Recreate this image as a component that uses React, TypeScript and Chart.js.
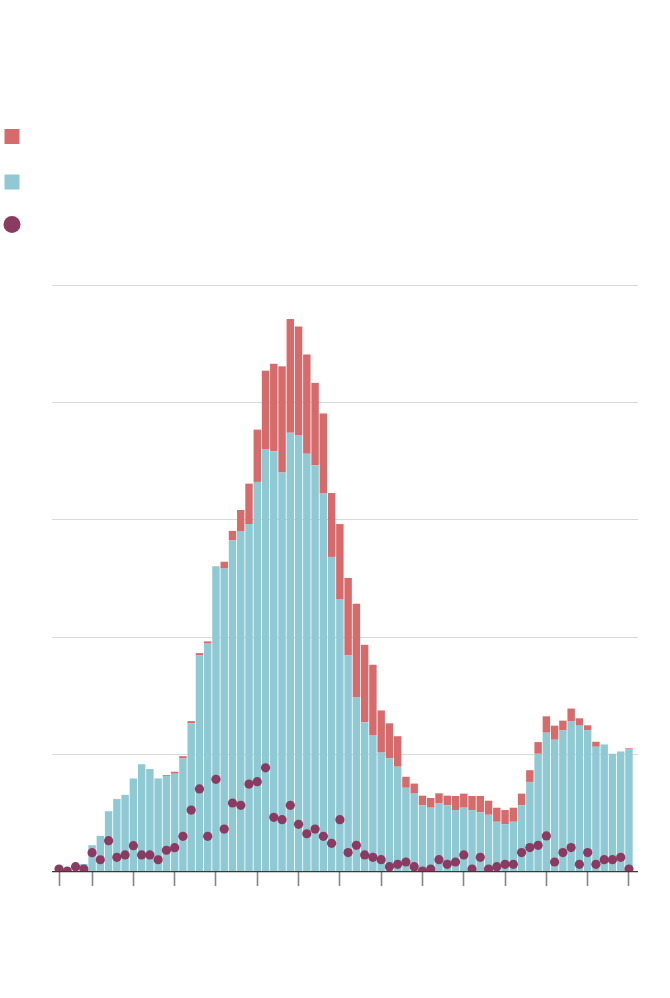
import React, { useEffect, useRef } from "react";
import { Chart, registerables } from "chart.js";

Chart.register(...registerables);

// Weekly categories (labels are not shown in the reference)
const WEEKS = [
  "1", "2", "3", "4", "5", "6", "7", "8", "9", "10",
  "11", "12", "13", "14", "15", "16", "17", "18", "19", "20",
  "21", "22", "23", "24", "25", "26", "27", "28", "29", "30",
  "31", "32", "33", "34", "35", "36", "37", "38", "39", "40",
  "41", "42", "43", "44", "45", "46", "47", "48", "49", "50",
  "51", "52", "53", "54", "55", "56", "57", "58", "59", "60",
  "61", "62", "63", "64", "65", "66", "67", "68", "69", "70",
];

// Teal bars (bottom of stack)
const CONFIRMED = [
  0, 0, 0, 6, 22, 30, 51, 61, 65, 79,
  91, 87, 79, 81, 83, 96, 126, 184, 194, 260,
  258, 282, 290, 296, 332, 360, 358, 340, 374, 372,
  356, 346, 322, 268, 232, 184, 148, 127, 116, 101,
  96, 89, 71, 66, 56, 54, 58, 56, 52, 54,
  52, 50, 48, 42, 40, 42, 56, 76, 100, 118,
  112, 120, 128, 124, 120, 106, 108, 100, 102, 104,
];

// Red bars (top of stack)
const PROBABLE = [
  0, 0, 0, 0, 0, 0, 0, 0.5, 0, 0,
  0, 0, 0, 0.8, 1.7, 2, 1.9, 1.9, 1.9, 0,
  5.9, 8.2, 18, 34.5, 44.6, 66.9, 74.8, 90.6, 96.9, 92.6,
  84.7, 70.5, 68.4, 54.5, 64, 66, 80, 66, 60, 36,
  30, 26, 9.4, 8.6, 8.3, 8.3, 8.3, 8.3, 12, 12,
  12, 14, 12, 12, 12, 12, 10, 10, 10, 14,
  12, 8.3, 10.6, 6.3, 4.3, 4.3, 0, 0, 0, 0.7,
];

// Dots
const DEATHS = [
  1.7, 0, 3.7, 1.7, 15.6, 9.6, 25.9, 11.7, 13.7, 21.6,
  13.7, 13.7, 9.6, 17.7, 19.9, 29.6, 52, 70, 29.6, 78.2,
  35.8, 58, 56, 74.2, 76.2, 88, 45.8, 43.8, 56, 39.8,
  31.8, 35.8, 29.6, 23.6, 43.8, 15.7, 21.9, 13.7, 11.7, 9.7,
  3.7, 5.7, 7.7, 3.7, 0, 1.7, 9.7, 5.7, 7.7, 13.7,
  1.7, 11.7, 1.7, 3.7, 5.7, 5.7, 15.7, 20, 21.9, 29.9,
  7.7, 15.7, 20, 5.7, 15.7, 5.7, 9.7, 9.7, 11.7, 1.7,
];

const Y_GRID = [100, 200, 300, 400, 500];
const TICK_WEEKS = [0, 4, 9, 14, 19, 24, 29, 34, 39, 44, 49, 54, 59, 64, 69];

const COLORS = {
  red: "#d76b6b",
  teal: "#8fc9d3",
  dot: "#8b3a62",
  grid: "#d9d9d9",
  axis: "#3a3a3a",
  tick: "#858585",
};

export default function App() {
  const ref = useRef<HTMLCanvasElement>(null);

  useEffect(() => {
    document.body.style.margin = "0";
    const canvas = ref.current;
    if (!canvas) return;

    const gridPlugin = {
      id: "extendedGrid",
      beforeDatasetsDraw(chart: any) {
        const { ctx } = chart;
        const y = chart.scales.y;
        ctx.save();
        ctx.lineWidth = 1;
        ctx.strokeStyle = COLORS.grid;
        for (const v of Y_GRID) {
          const py = Math.round(y.getPixelForValue(v)) + 0.5;
          ctx.beginPath();
          ctx.moveTo(52, py);
          ctx.lineTo(638, py);
          ctx.stroke();
        }
        const p0 = y.getPixelForValue(0) + 0.6;
        ctx.strokeStyle = COLORS.axis;
        ctx.lineWidth = 1.3;
        ctx.beginPath();
        ctx.moveTo(52, p0);
        ctx.lineTo(638, p0);
        ctx.stroke();
        ctx.restore();
      },
    };

    const legendPlugin = {
      id: "legendMarks",
      afterDraw(chart: any) {
        const { ctx } = chart;
        ctx.save();
        ctx.fillStyle = COLORS.red;
        ctx.fillRect(4.5, 129, 15, 15);
        ctx.fillStyle = COLORS.teal;
        ctx.fillRect(4.5, 174.5, 15, 15);
        ctx.fillStyle = COLORS.dot;
        ctx.beginPath();
        ctx.arc(12, 224.5, 8.5, 0, Math.PI * 2);
        ctx.fill();
        ctx.restore();
      },
    };

    const chart = new Chart(canvas, {
      type: "bar",
      data: {
        labels: WEEKS,
        datasets: [
          {
            type: "line",
            label: "Deaths",
            data: DEATHS,
            showLine: false,
            pointRadius: 4.6,
            pointHoverRadius: 4.6,
            pointBackgroundColor: COLORS.dot,
            pointBorderWidth: 0,
            borderColor: COLORS.dot,
            stack: "deaths",
            order: 0,
          } as any,
          {
            label: "Confirmed",
            data: CONFIRMED,
            backgroundColor: COLORS.teal,
            stack: "cases",
            order: 1,
            barPercentage: 0.9,
            categoryPercentage: 1,
          },
          {
            label: "Probable",
            data: PROBABLE,
            backgroundColor: COLORS.red,
            stack: "cases",
            order: 1,
            barPercentage: 0.9,
            categoryPercentage: 1,
          },
        ],
      },
      options: {
        animation: false,
        responsive: false,
        maintainAspectRatio: false,
        layout: { padding: { top: 285, left: 54.9, right: 36.9, bottom: 112 } },
        plugins: {
          legend: { display: false },
          tooltip: { enabled: false },
        },
        scales: {
          x: {
            stacked: true,
            offset: true,
            border: { display: false },
            grid: {
              display: true,
              offset: false,
              drawOnChartArea: false,
              drawTicks: true,
              tickLength: 15,
              tickWidth: 1.6,
              tickColor: (c: any) =>
                TICK_WEEKS.includes(c.index) ? COLORS.tick : "rgba(0,0,0,0)",
            },
            ticks: { display: false, autoSkip: false },
            afterFit(scale: any) {
              scale.height = 15;
            },
          } as any,
          y: {
            stacked: true,
            display: false,
            min: 0,
            max: 500,
          },
        },
      },
      plugins: [gridPlugin, legendPlugin],
    });

    return () => chart.destroy();
  }, []);

  return (
    <div style={{ width: 670, height: 998 }}>
      <canvas ref={ref} width={670} height={998} style={{ display: "block" }} />
    </div>
  );
}
